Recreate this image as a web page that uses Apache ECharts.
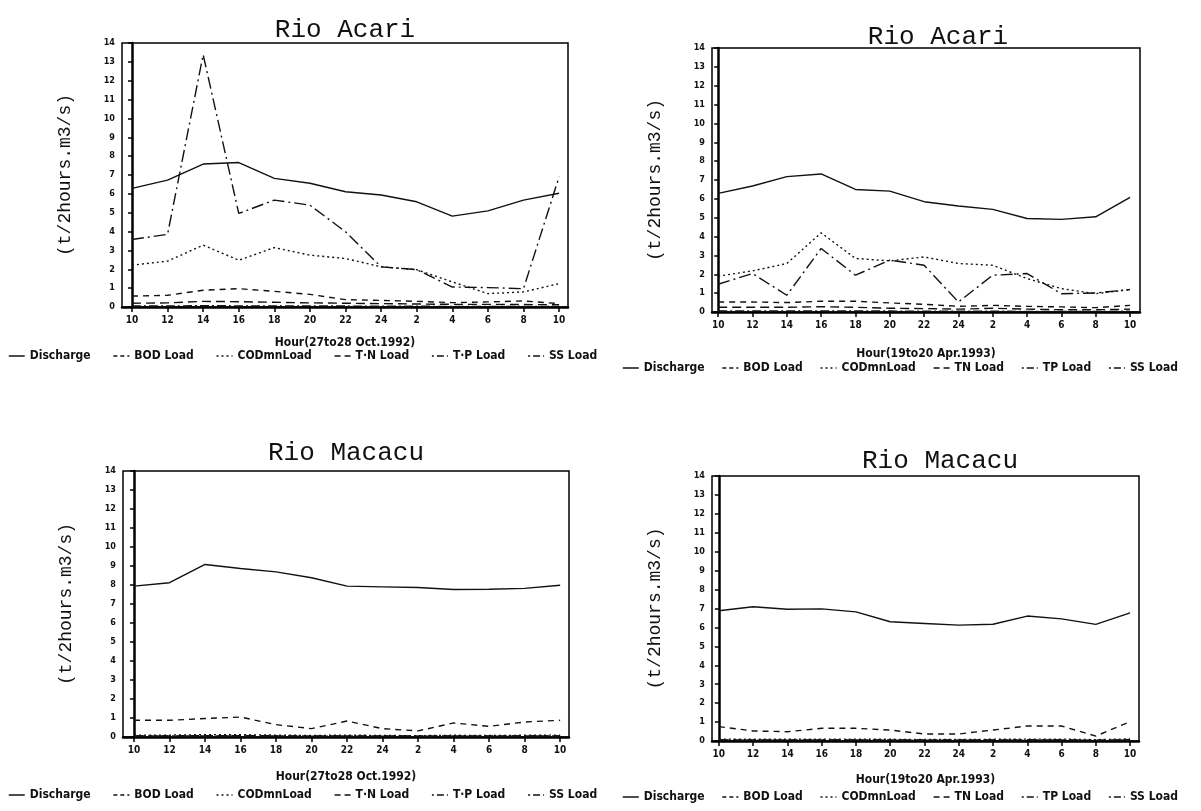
<!DOCTYPE html>
<html>
<head>
<meta charset="utf-8">
<script src="https://cdn.jsdelivr.net/npm/echarts@6/dist/echarts.min.js"></script>
<style>
html,body{margin:0;padding:0;background:#fff;}
#c{width:1201px;height:811px;}
</style>
</head>
<body>
<div id="c"></div>
<script>
// ---------- data ----------
const hours = ['10','12','14','16','18','20','22','24','2','4','6','8','10'];
const yTicks = [0,1,2,3,4,5,6,7,8,9,10,11,12,13,14];
const seriesNames = ['Discharge','BOD Load','CODmnLoad','T-N Load','T-P Load','SS Load'];

// Rio Acari, 27 to 28 Oct. 1992
const acariOctDischarge = [6.29,6.73,7.58,7.66,6.82,6.56,6.11,5.94,5.58,4.82,5.10,5.67,6.03];
const acariOctBOD       = [0.58,0.62,0.89,0.97,0.83,0.67,0.39,0.35,0.30,0.23,0.27,0.32,0.18];
const acariOctCOD       = [2.22,2.43,3.28,2.48,3.15,2.75,2.57,2.13,1.98,1.33,0.71,0.80,1.24];
const acariOctTN        = [0.20,0.22,0.30,0.28,0.25,0.22,0.20,0.18,0.16,0.14,0.14,0.13,0.12];
const acariOctTP        = [0.05,0.05,0.07,0.06,0.06,0.05,0.05,0.04,0.04,0.03,0.03,0.03,0.03];
const acariOctSS        = [3.58,3.85,13.38,4.96,5.67,5.40,3.99,2.13,1.98,1.06,1.03,0.97,6.91];

// Rio Acari, 19 to 20 Apr. 1993
const acariAprDischarge = [6.29,6.68,7.18,7.32,6.50,6.41,5.85,5.62,5.44,4.96,4.91,5.05,6.08];
const acariAprBOD       = [0.53,0.53,0.50,0.57,0.57,0.48,0.41,0.30,0.35,0.30,0.27,0.23,0.35];
const acariAprCOD       = [1.90,2.18,2.57,4.20,2.84,2.71,2.92,2.57,2.48,1.77,1.24,0.97,1.19];
const acariAprTN        = [0.25,0.25,0.25,0.28,0.25,0.20,0.18,0.15,0.20,0.15,0.12,0.12,0.15];
const acariAprTP        = [0.05,0.05,0.05,0.06,0.05,0.05,0.04,0.04,0.04,0.03,0.03,0.03,0.04];
const acariAprSS        = [1.47,2.04,0.89,3.37,1.95,2.75,2.48,0.53,1.95,2.04,0.97,1.01,1.19];

// Rio Macacu, 27 to 28 Oct. 1992
const macacuOctDischarge = [7.94,8.12,9.08,8.87,8.69,8.38,7.94,7.90,7.87,7.76,7.78,7.82,7.99];
const macacuOctBOD       = [0.88,0.88,0.97,1.05,0.65,0.44,0.84,0.44,0.32,0.74,0.56,0.79,0.88];
const macacuOctCOD       = [0.10,0.10,0.12,0.12,0.10,0.08,0.10,0.08,0.07,0.09,0.08,0.09,0.10];
const macacuOctTN        = [0.06,0.06,0.07,0.07,0.06,0.05,0.06,0.05,0.05,0.06,0.05,0.06,0.06];
const macacuOctTP        = [0.02,0.02,0.02,0.02,0.02,0.02,0.02,0.02,0.02,0.02,0.02,0.02,0.02];
const macacuOctSS        = [0.05,0.05,0.06,0.06,0.05,0.04,0.05,0.04,0.04,0.05,0.04,0.05,0.05];

// Rio Macacu, 19 to 20 Apr. 1993
const macacuAprDischarge = [6.88,7.09,6.96,6.98,6.82,6.30,6.21,6.12,6.17,6.60,6.45,6.16,6.77];
const macacuAprBOD       = [0.76,0.53,0.49,0.67,0.67,0.58,0.37,0.37,0.58,0.79,0.79,0.26,1.02];
const macacuAprCOD       = [0.10,0.09,0.09,0.10,0.10,0.09,0.08,0.08,0.09,0.10,0.10,0.07,0.11];
const macacuAprTN        = [0.06,0.05,0.05,0.06,0.06,0.05,0.05,0.05,0.05,0.06,0.06,0.04,0.07];
const macacuAprTP        = [0.02,0.02,0.02,0.02,0.02,0.02,0.02,0.02,0.02,0.02,0.02,0.02,0.02];
const macacuAprSS        = [0.05,0.04,0.04,0.05,0.05,0.04,0.04,0.04,0.04,0.05,0.05,0.03,0.06];

const panelTitles = ['Rio Acari','Rio Acari','Rio Macacu','Rio Macacu'];
const xAxisNames = ['Hour(27to28 Oct.1992)','Hour(19to20 Apr.1993)','Hour(27to28 Oct.1992)','Hour(19to20 Apr.1993)'];
const yAxisName = '(t/2hours.m3/s)';
const legendLabels = [
  ['Discharge','BOD Load','CODmnLoad','T·N Load','T·P Load','SS Load'],
  ['Discharge','BOD Load','CODmnLoad','TN Load','TP Load','SS Load'],
  ['Discharge','BOD Load','CODmnLoad','T·N Load','T·P Load','SS Load'],
  ['Discharge','BOD Load','CODmnLoad','TN Load','TP Load','SS Load']
];
const panelData = [
  [acariOctDischarge, acariOctBOD, acariOctCOD, acariOctTN, acariOctTP, acariOctSS],
  [acariAprDischarge, acariAprBOD, acariAprCOD, acariAprTN, acariAprTP, acariAprSS],
  [macacuOctDischarge, macacuOctBOD, macacuOctCOD, macacuOctTN, macacuOctTP, macacuOctSS],
  [macacuAprDischarge, macacuAprBOD, macacuAprCOD, macacuAprTN, macacuAprTP, macacuAprSS]
];

// ---------- layout & style ----------
const grids = [
  {left:122, top:43,  width:446, height:264, xmin:-0.28, xmax:12.25, nameGap:30},
  {left:712, top:48,  width:428, height:264, xmin:-0.18, xmax:12.29, nameGap:36},
  {left:123, top:471, width:446, height:266, xmin:-0.31, xmax:12.25, nameGap:34},
  {left:712, top:476, width:427, height:265, xmin:-0.20, xmax:12.26, nameGap:33}
];
const titlePos = [
  {cx:340, top:12}, {cx:933, top:19}, {cx:341, top:435}, {cx:935, top:443}
];
const legendPos = [
  {left:8, top:350, gap:22}, {left:622, top:362, gap:17}, {left:8, top:789, gap:22}, {left:622, top:791, gap:17}
];
const lineTypes = ['solid',[6,5],[2,3],[9,5],[9,3,2,3],[12,4,2,4]];
const legendLineTypes = ['solid',[4,3],[2,3],[6,4],[2,3,7,3],[2,3,7,3]];
const monoFont = "'Liberation Mono','DejaVu Sans Mono',monospace";
const narrowFont = "'DejaVu Sans Condensed','Liberation Sans Narrow','Liberation Sans',sans-serif";

const option = {
  backgroundColor:'#fff',
  animation:false,
  title:[], grid:[], xAxis:[], yAxis:[], legend:[], series:[]
};

const idx = hours.map((h,i)=>i);

for (let p=0;p<4;p++){
  const g = grids[p];
  option.grid.push({left:g.left, top:g.top, width:g.width, height:g.height,
    show:true, borderColor:'#000', borderWidth:1.5, containLabel:false});
  option.title.push({text:panelTitles[p], left:titlePos[p].cx, top:titlePos[p].top, textAlign:'center',
    textStyle:{fontFamily:monoFont, fontSize:26, fontWeight:'normal', color:'#111'}});
  option.xAxis.push({
    type:'value', gridIndex:p, min:g.xmin, max:g.xmax,
    name:xAxisNames[p], nameLocation:'middle', nameGap:g.nameGap,
    nameTextStyle:{fontFamily:narrowFont, fontWeight:'bold', fontSize:12, color:'#111'},
    axisLine:{show:true, onZero:false, lineStyle:{color:'#000', width:2.5}},
    axisTick:{show:true, customValues:idx, length:5, lineStyle:{color:'#000', width:1.5}},
    axisLabel:{customValues:idx, formatter:(v)=>hours[Math.round(v)], margin:8,
      fontFamily:narrowFont, fontWeight:'bold', fontSize:10, color:'#111'},
    splitLine:{show:false}
  });
  option.yAxis.push({
    type:'value', gridIndex:p, min:0, max:14, interval:1,
    name:yAxisName, nameLocation:'middle', nameGap:48,
    nameTextStyle:{fontFamily:monoFont, fontSize:18, color:'#111'},
    axisLine:{show:true, lineStyle:{color:'#000', width:2.5}},
    axisTick:{show:true, length:4, lineStyle:{color:'#000', width:1.5}},
    axisLabel:{margin:7, formatter:(v)=>String(yTicks[v]), fontFamily:narrowFont, fontWeight:'bold', fontSize:9, color:'#111'},
    splitLine:{show:false}
  });
  const labels = legendLabels[p];
  option.legend.push({
    left:legendPos[p].left, top:legendPos[p].top, orient:'horizontal', width:590,
    data:seriesNames.map((n,i)=>({name:n, lineStyle:{type:legendLineTypes[i], width:1.5}})),
    formatter:(name)=>labels[seriesNames.indexOf(name)],
    itemWidth:16, itemHeight:8, itemGap:legendPos[p].gap, padding:0,
    itemStyle:{opacity:0},
    lineStyle:{width:1.5},
    textStyle:{fontFamily:narrowFont, fontWeight:'bold', fontSize:12, color:'#111'},
    selectedMode:false
  });
  for (let s=0;s<6;s++){
    option.series.push({
      type:'line', name:seriesNames[s], xAxisIndex:p, yAxisIndex:p,
      data:panelData[p][s].map((v,i)=>[i,v]),
      symbol:'none', smooth:false,
      lineStyle:{color:'#111', width:1.4, type:lineTypes[s]},
      itemStyle:{color:'#111'},
      z:10-s
    });
  }
}

const chart = echarts.init(document.getElementById('c'), null, {renderer:'canvas'});
chart.setOption(option);
</script>
</body>
</html>
